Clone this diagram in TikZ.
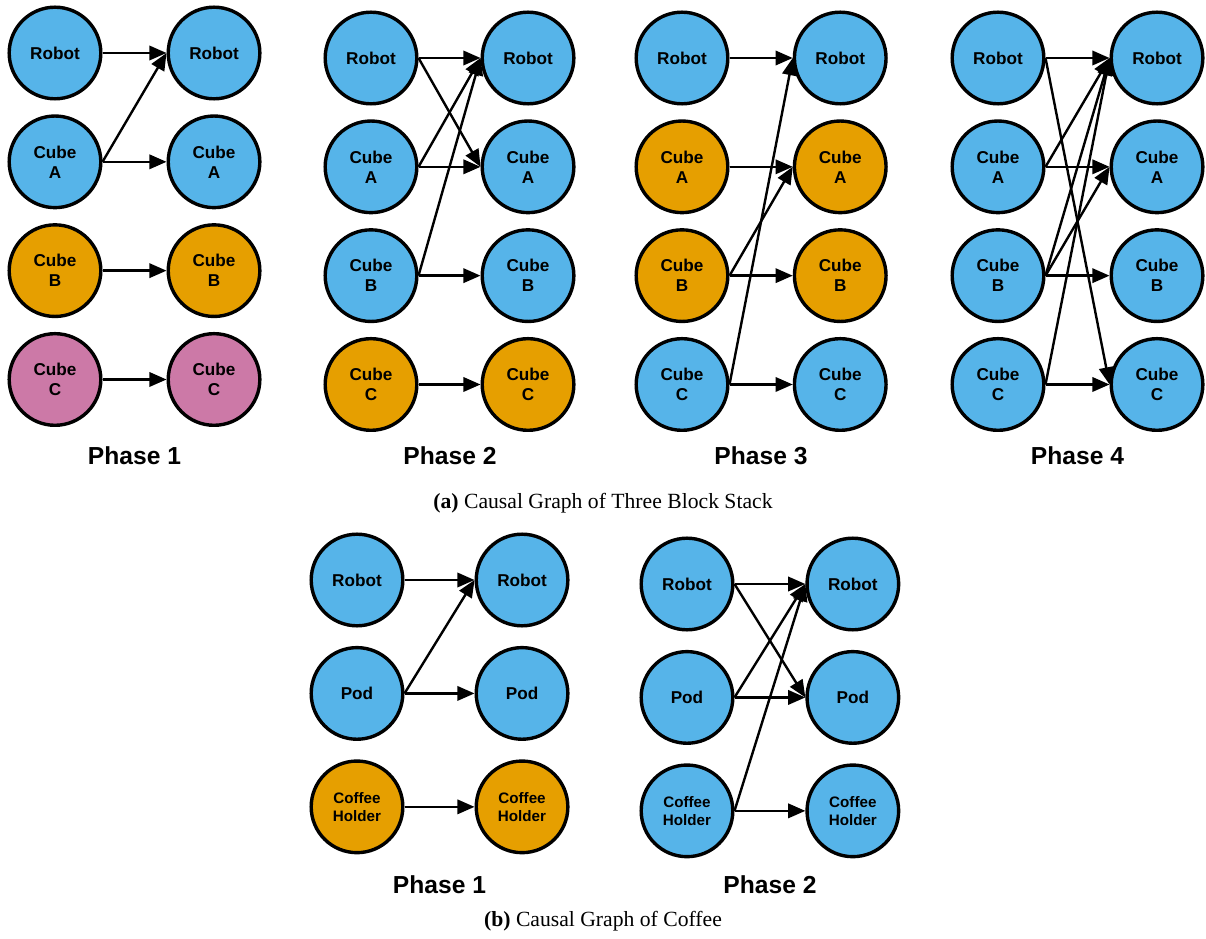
\documentclass[tikz,border=0pt]{standalone}
\usepackage{fontspec}
\setmainfont{Liberation Serif}
\setsansfont{Liberation Sans}
\usetikzlibrary{positioning, arrows.meta}
\definecolor{skyblue}{HTML}{56B4E9}
\definecolor{amber}{HTML}{E69F00}
\definecolor{mauve}{HTML}{CC79A7}

\begin{document}
\begin{tikzpicture}[
    x=0.025cm, y=0.025cm,
    ent/.style={circle, draw=black, line width=0.085cm, minimum size=2.29cm, inner sep=0pt, align=center, font=\sffamily\bfseries\fontsize{12.2}{14.2}\selectfont},
    smalltext/.style={font=\sffamily\bfseries\fontsize{10.8}{12.6}\selectfont},
    idle/.style={ent, fill=skyblue},
    act/.style={ent, fill=amber},
    held/.style={ent, fill=mauve},
    arrow/.style={-{Triangle[length=0.43cm, width=0.36cm]}, line width=0.06cm},
    phase/.style={font=\sffamily\bfseries\fontsize{17.5}{21}\selectfont},
    caption/.style={font=\fontsize{15.4}{18}\selectfont}
]
    \useasboundingbox (0,0) rectangle (1206,-939);

    % (a) Three block stack, Phase 1
    \node[idle] (p1r) at (55,-53) {Robot};
    \node[idle, below=0.345cm of p1r] (p1a) {Cube\\A};
    \node[act, below=0.345cm of p1a] (p1b) {Cube\\B};
    \node[held, below=0.345cm of p1b] (p1c) {Cube\\C};
    \node[idle, right=1.6cm of p1r] (q1r) {Robot};
    \node[idle, right=1.6cm of p1a] (q1a) {Cube\\A};
    \node[act, right=1.6cm of p1b] (q1b) {Cube\\B};
    \node[held, right=1.6cm of p1c] (q1c) {Cube\\C};

    \draw[arrow] (p1r.east) -- (q1r.west);
    \draw[arrow] (p1a.east) -- (q1r.west);
    \draw[arrow] (p1a.east) -- (q1a.west);
    \draw[arrow] (p1b.east) -- (q1b.west);
    \draw[arrow] (p1c.east) -- (q1c.west);
    \node[phase] (ph1) at (134.5,-456) {Phase 1};

    % Phase 2
    \node[idle] (p2r) at (371,-58) {Robot};
    \node[idle, below=0.345cm of p2r] (p2a) {Cube\\A};
    \node[idle, below=0.345cm of p2a] (p2b) {Cube\\B};
    \node[act, below=0.345cm of p2b] (p2c) {Cube\\C};
    \node[idle, right=1.55cm of p2r] (q2r) {Robot};
    \node[idle, right=1.55cm of p2a] (q2a) {Cube\\A};
    \node[idle, right=1.55cm of p2b] (q2b) {Cube\\B};
    \node[act, right=1.55cm of p2c] (q2c) {Cube\\C};

    \draw[arrow] (p2r.east) -- (q2r.west);
    \draw[arrow] (p2r.east) -- (q2a.west);
    \draw[arrow] (p2a.east) -- (q2r.west);
    \draw[arrow] (p2a.east) -- (q2a.west);
    \draw[arrow] (p2b.east) -- (q2r.west);
    \draw[arrow] (p2b.east) -- (q2b.west);
    \draw[arrow] (p2c.east) -- (q2c.west);
    \node[phase] (ph2) at (450,-456) {Phase 2};

    % Phase 3
    \node[idle] (p3r) at (682,-58) {Robot};
    \node[act, below=0.345cm of p3r] (p3a) {Cube\\A};
    \node[act, below=0.345cm of p3a] (p3b) {Cube\\B};
    \node[idle, below=0.345cm of p3b] (p3c) {Cube\\C};
    \node[idle, right=1.58cm of p3r] (q3r) {Robot};
    \node[act, right=1.58cm of p3a] (q3a) {Cube\\A};
    \node[act, right=1.58cm of p3b] (q3b) {Cube\\B};
    \node[idle, right=1.58cm of p3c] (q3c) {Cube\\C};

    \draw[arrow] (p3r.east) -- (q3r.west);
    \draw[arrow] (p3a.east) -- (q3a.west);
    \draw[arrow] (p3b.east) -- (q3a.west);
    \draw[arrow] (p3b.east) -- (q3b.west);
    \draw[arrow] (p3c.east) -- (q3r.west);
    \draw[arrow] (p3c.east) -- (q3c.west);
    \node[phase] (ph3) at (761,-456) {Phase 3};

    % Phase 4
    \node[idle] (p4r) at (998,-58) {Robot};
    \node[idle, below=0.345cm of p4r] (p4a) {Cube\\A};
    \node[idle, below=0.345cm of p4a] (p4b) {Cube\\B};
    \node[idle, below=0.345cm of p4b] (p4c) {Cube\\C};
    \node[idle, right=1.6cm of p4r] (q4r) {Robot};
    \node[idle, right=1.6cm of p4a] (q4a) {Cube\\A};
    \node[idle, right=1.6cm of p4b] (q4b) {Cube\\B};
    \node[idle, right=1.6cm of p4c] (q4c) {Cube\\C};

    \draw[arrow] (p4r.east) -- (q4r.west);
    \draw[arrow] (p4r.east) -- (q4c.west);
    \draw[arrow] (p4a.east) -- (q4r.west);
    \draw[arrow] (p4a.east) -- (q4a.west);
    \draw[arrow] (p4b.east) -- (q4r.west);
    \draw[arrow] (p4b.east) -- (q4a.west);
    \draw[arrow] (p4b.east) -- (q4b.west);
    \draw[arrow] (p4c.east) -- (q4r.west);
    \draw[arrow] (p4c.east) -- (q4c.west);
    \node[phase] (ph4) at (1077.5,-456) {Phase 4};

    \node[caption] (capa) at (603,-503) {\textbf{(a)} Causal Graph of Three Block Stack};

    % (b) Coffee, Phase 1
    \node[idle] (c1r) at (357,-580) {Robot};
    \node[idle, below=0.46cm of c1r] (c1p) {Pod};
    \node[act, smalltext, below=0.46cm of c1p] (c1h) {Coffee\\Holder};
    \node[idle, right=1.75cm of c1r] (d1r) {Robot};
    \node[idle, right=1.75cm of c1p] (d1p) {Pod};
    \node[act, smalltext, right=1.75cm of c1h] (d1h) {Coffee\\Holder};

    \draw[arrow] (c1r.east) -- (d1r.west);
    \draw[arrow] (c1p.east) -- (d1r.west);
    \draw[arrow] (c1p.east) -- (d1p.west);
    \draw[arrow] (c1h.east) -- (d1h.west);
    \node[phase] (cph1) at (439.5,-885) {Phase 1};

    % Phase 2
    \node[idle] (c2r) at (687,-584) {Robot};
    \node[idle, below=0.46cm of c2r] (c2p) {Pod};
    \node[idle, smalltext, below=0.46cm of c2p] (c2h) {Coffee\\Holder};
    \node[idle, right=1.77cm of c2r] (d2r) {Robot};
    \node[idle, right=1.77cm of c2p] (d2p) {Pod};
    \node[idle, smalltext, right=1.77cm of c2h] (d2h) {Coffee\\Holder};

    \draw[arrow] (c2r.east) -- (d2r.west);
    \draw[arrow] (c2r.east) -- (d2p.west);
    \draw[arrow] (c2p.east) -- (d2r.west);
    \draw[arrow] (c2p.east) -- (d2p.west);
    \draw[arrow] (c2h.east) -- (d2r.west);
    \draw[arrow] (c2h.east) -- (d2h.west);
    \node[phase] (cph2) at (770,-885) {Phase 2};

    \node[caption] (capb) at (603,-921) {\textbf{(b)} Causal Graph of Coffee};

\end{tikzpicture}
\end{document}
